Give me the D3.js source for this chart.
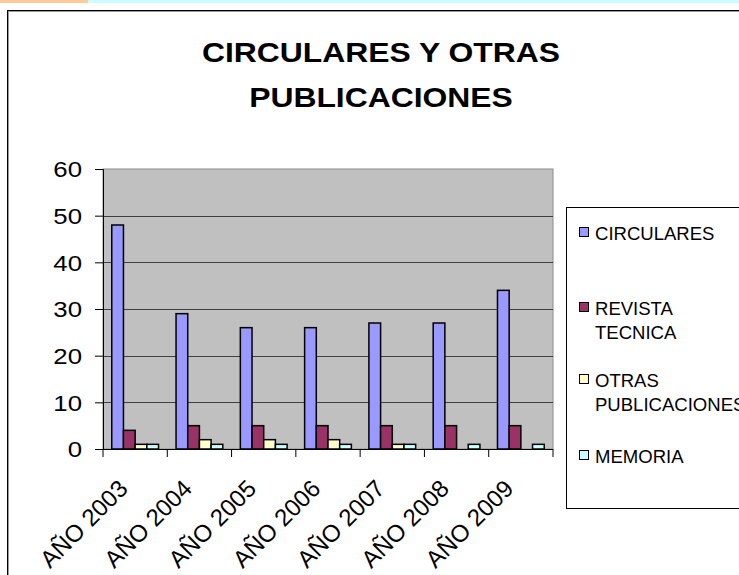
<!DOCTYPE html>
<html>
<head>
  <meta charset="utf-8">
  <title>Circulares y otras publicaciones</title>
  <style>
    html, body { margin: 0; padding: 0; background: #fff; overflow: hidden; }
    svg { display: block; font-family: "Liberation Sans", Arial, sans-serif; }
  </style>
</head>
<body>
<svg id="chart" width="739" height="575"></svg>

<script src="https://cdn.jsdelivr.net/npm/d3@7/dist/d3.min.js"></script>
<script>
  // data
  var categories = ['AÑO 2003', 'AÑO 2004', 'AÑO 2005', 'AÑO 2006', 'AÑO 2007', 'AÑO 2008', 'AÑO 2009'];
  var circulares = [48, 29, 26, 26, 27, 27, 34];
  var revista    = [4, 5, 5, 5, 5, 5, 5];
  var otras      = [1, 2, 2, 2, 1, 0, 0];
  var memoria    = [1, 1, 1, 1, 1, 1, 1];
  var seriesNames = ['CIRCULARES', 'REVISTA TECNICA', 'OTRAS PUBLICACIONES', 'MEMORIA'];
  var yTicks = [0, 10, 20, 30, 40, 50, 60];

  var series = [
    {name: seriesNames[0], lines: ['CIRCULARES'], values: circulares, color: '#9999ff'},
    {name: seriesNames[1], lines: ['REVISTA', 'TECNICA'], values: revista, color: '#993366'},
    {name: seriesNames[2], lines: ['OTRAS', 'PUBLICACIONES'], values: otras, color: '#ffffcc'},
    {name: seriesNames[3], lines: ['MEMORIA'], values: memoria, color: '#ccffff'}
  ];

  var svg = d3.select('#chart');

  // top strip of the page
  svg.append('rect').attr('x', 0).attr('y', 0).attr('width', 88).attr('height', 3).attr('fill', '#ffcc99');
  svg.append('rect').attr('x', 88).attr('y', 0).attr('width', 651).attr('height', 3).attr('fill', '#ccffff');

  // chart frame (runs off the window on the right and bottom)
  svg.append('rect').attr('x', 7.5).attr('y', 10.5).attr('width', 800).attr('height', 700)
    .attr('fill', '#fff').attr('stroke', '#000');
  svg.append('rect').attr('x', 8.5).attr('y', 11.5).attr('width', 800).attr('height', 700)
    .attr('fill', 'none').attr('stroke', '#999');

  // horizontally stretched text helper
  function stretched(g, x, y, txt, sx, anchor) {
    return g.append('text')
      .attr('transform', 'translate(' + x + ',' + y + ') scale(' + sx + ',1)')
      .attr('text-anchor', anchor || 'start')
      .text(txt);
  }

  // title
  var title = svg.append('g').attr('font-weight', 'bold').attr('font-size', 27).attr('fill', '#000');
  stretched(title, 381, 62, 'CIRCULARES Y OTRAS', 1.18, 'middle');
  stretched(title, 381, 107, 'PUBLICACIONES', 1.18, 'middle');

  var plotL = 103, plotR = 553, plotT = 169, plotB = 449;

  var x0 = d3.scaleBand().domain(categories).range([plotL, plotR]).paddingInner(0).paddingOuter(0);
  var bw = x0.bandwidth();
  var gap = bw * 1.5 / 5.5;
  var x1 = d3.scaleBand().domain(seriesNames).range([gap / 2, bw - gap / 2]).padding(0);
  var y = d3.scaleLinear().domain([0, 60]).range([plotB, plotT]);

  // plot background
  svg.append('rect').attr('x', plotL).attr('y', plotT).attr('width', plotR - plotL).attr('height', plotB - plotT)
    .attr('fill', '#c0c0c0').attr('stroke', '#8c8c8c');

  // gridlines
  svg.append('g').selectAll('line').data(yTicks.filter(function(t) { return t > 0 && t < 60; }))
    .join('line')
    .attr('x1', plotL).attr('x2', plotR)
    .attr('y1', function(d) { return Math.round(y(d)) + 0.5; })
    .attr('y2', function(d) { return Math.round(y(d)) + 0.5; })
    .attr('stroke', '#404040').attr('stroke-width', 1);

  // bars
  var groups = svg.append('g').selectAll('g').data(series).join('g')
    .attr('fill', function(s) { return s.color; });
  groups.selectAll('rect')
    .data(function(s) {
      return s.values.map(function(v, i) { return {name: s.name, cat: categories[i], v: v}; })
        .filter(function(d) { return d.v > 0; });
    })
    .join('rect')
    .attr('x', function(d) { return x0(d.cat) + x1(d.name); })
    .attr('y', function(d) { return y(d.v); })
    .attr('width', x1.bandwidth())
    .attr('height', function(d) { return y(0) - y(d.v); })
    .attr('stroke', '#000').attr('stroke-width', 1.5);

  // y axis
  var yAxis = svg.append('g').attr('transform', 'translate(' + plotL + ',0)')
    .call(d3.axisLeft(y).tickValues(yTicks).tickSize(8).tickPadding(13));
  yAxis.select('.domain').attr('stroke', '#000');
  yAxis.selectAll('.tick line').attr('stroke', '#000');
  yAxis.selectAll('.tick text')
    .attr('font-size', 21.5).attr('font-family', '"Liberation Sans", Arial, sans-serif').attr('fill', '#000')
    .attr('x', -21 / 1.2).attr('transform', 'scale(1.2,1)').attr('dy', '0.36em');

  // x axis: ticks on category boundaries
  var xAxis = svg.append('g').attr('transform', 'translate(0,' + plotB + ')');
  xAxis.append('line').attr('x1', plotL).attr('x2', plotR).attr('y1', 0.5).attr('y2', 0.5).attr('stroke', '#000');
  xAxis.selectAll('line.tk').data(categories.concat(['end']))
    .join('line').attr('class', 'tk')
    .attr('x1', function(d) { return d === 'end' ? plotR : x0(d); })
    .attr('x2', function(d) { return d === 'end' ? plotR : x0(d); })
    .attr('y1', 0).attr('y2', 8).attr('stroke', '#000');
  xAxis.selectAll('text').data(categories).join('text')
    .attr('transform', function(d) { return 'translate(' + (x0(d) + bw / 2 - 6) + ',41) rotate(-45)'; })
    .attr('text-anchor', 'end')
    .attr('font-size', 24).attr('fill', '#000')
    .text(function(d) { return d; });

  // legend
  var legend = svg.append('g');
  legend.append('rect').attr('x', 566.5).attr('y', 207.5).attr('width', 300).attr('height', 301)
    .attr('fill', '#fff').attr('stroke', '#000');
  var legendY = [233, 308, 380, 456];
  series.forEach(function(s, i) {
    var cy = legendY[i];
    legend.append('rect').attr('x', 579.5).attr('y', cy - 5.5).attr('width', 9).attr('height', 9)
      .attr('fill', s.color).attr('stroke', '#000');
    var t = legend.append('g').attr('font-size', 17.5).attr('fill', '#000');
    s.lines.forEach(function(line, j) {
      stretched(t, 595, cy + 6.5 + j * 24, line, 1.06);
    });
  });
</script>
</body>
</html>
